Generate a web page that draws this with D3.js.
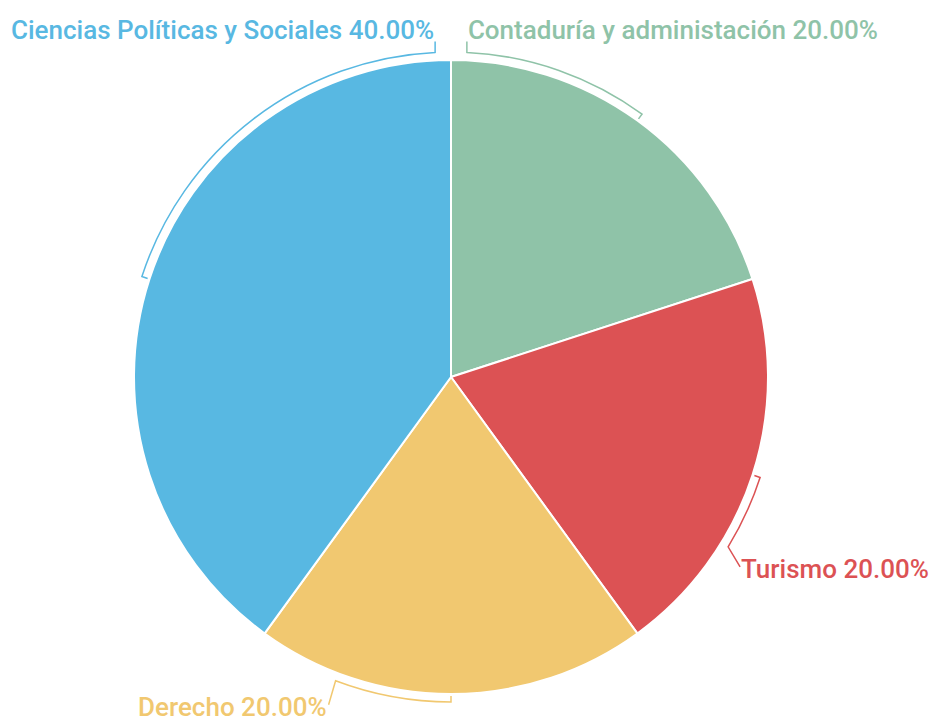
<!DOCTYPE html>
<html>
<head>
<meta charset="utf-8">
<script src="https://cdn.jsdelivr.net/npm/d3@7/dist/d3.min.js"></script>
<style>
  html, body { margin: 0; padding: 0; background: #fff; }
  svg { display: block; }
  text { font-family: Roboto, "Noto Sans", sans-serif; }
</style>
</head>
<body>
<svg id="chart" width="929" height="717"></svg>
<script>
// ---- data ----
const categories = ["Contaduría y administación", "Turismo", "Derecho", "Ciencias Políticas y Sociales"];
const values = [20, 20, 20, 40];
const colors = ["#8fc3a8", "#dc5254", "#f1c870", "#58b8e2"];

// ---- label layout (bracket end angle in degrees, leader offset, text side) ----
const bracketEnd = [2.8, 121.5, 200.8, 357.2];
const leaderDX = [0, 12, -7, 0];
const leaderDY = [-11, 20, 24, -11];
const textAnchor = ["start", "start", "end", "end"];
const textDX = [1, 1, -2, -1];
const textDY = [-2, 11, 11, -2];

const W = 929, H = 717;
const cx = 451, cy = 377, R = 317;
const rB = R + 8, tick = 6;

const svg = d3.select("#chart");
const g = svg.append("g").attr("transform", `translate(${cx},${cy})`);

const total = d3.sum(values);
const data = categories.map((c, i) => ({ name: c, value: values[i], color: colors[i], i }));

const pie = d3.pie().sort(null).value(d => d.value).startAngle(0).endAngle(2 * Math.PI);
const arcs = pie(data);
const arcGen = d3.arc().innerRadius(0).outerRadius(R);

g.selectAll("path.slice").data(arcs).enter().append("path")
  .attr("class", "slice")
  .attr("d", arcGen)
  .attr("fill", d => d.data.color)
  .attr("stroke", "#fff")
  .attr("stroke-width", 2)
  .attr("stroke-linejoin", "round");

const fmt = d3.format(".2f");
const pt = (a, r) => [r * Math.sin(a), -r * Math.cos(a)];

arcs.forEach(d => {
  const i = d.data.i;
  const mid = (d.startAngle + d.endAngle) / 2;
  const end = bracketEnd[i] * Math.PI / 180;
  const p0 = pt(mid, rB - tick);
  const p1 = pt(mid, rB);
  const p2 = pt(end, rB);
  const p3 = [p2[0] + leaderDX[i], p2[1] + leaderDY[i]];
  const path = d3.path();
  path.moveTo(p0[0], p0[1]);
  path.lineTo(p1[0], p1[1]);
  path.arc(0, 0, rB, mid - Math.PI / 2, end - Math.PI / 2, end < mid);
  path.lineTo(p3[0], p3[1]);
  g.append("path")
    .attr("d", path.toString())
    .attr("fill", "none")
    .attr("stroke", d.data.color)
    .attr("stroke-width", 1.5);
  g.append("text")
    .attr("x", p3[0] + textDX[i])
    .attr("y", p3[1] + textDY[i])
    .attr("text-anchor", textAnchor[i])
    .attr("fill", d.data.color)
    .attr("font-size", 26)
    .attr("font-weight", 500)
    .text(`${d.data.name} ${fmt(d.data.value / total * 100)}%`);
});
</script>
</body>
</html>
